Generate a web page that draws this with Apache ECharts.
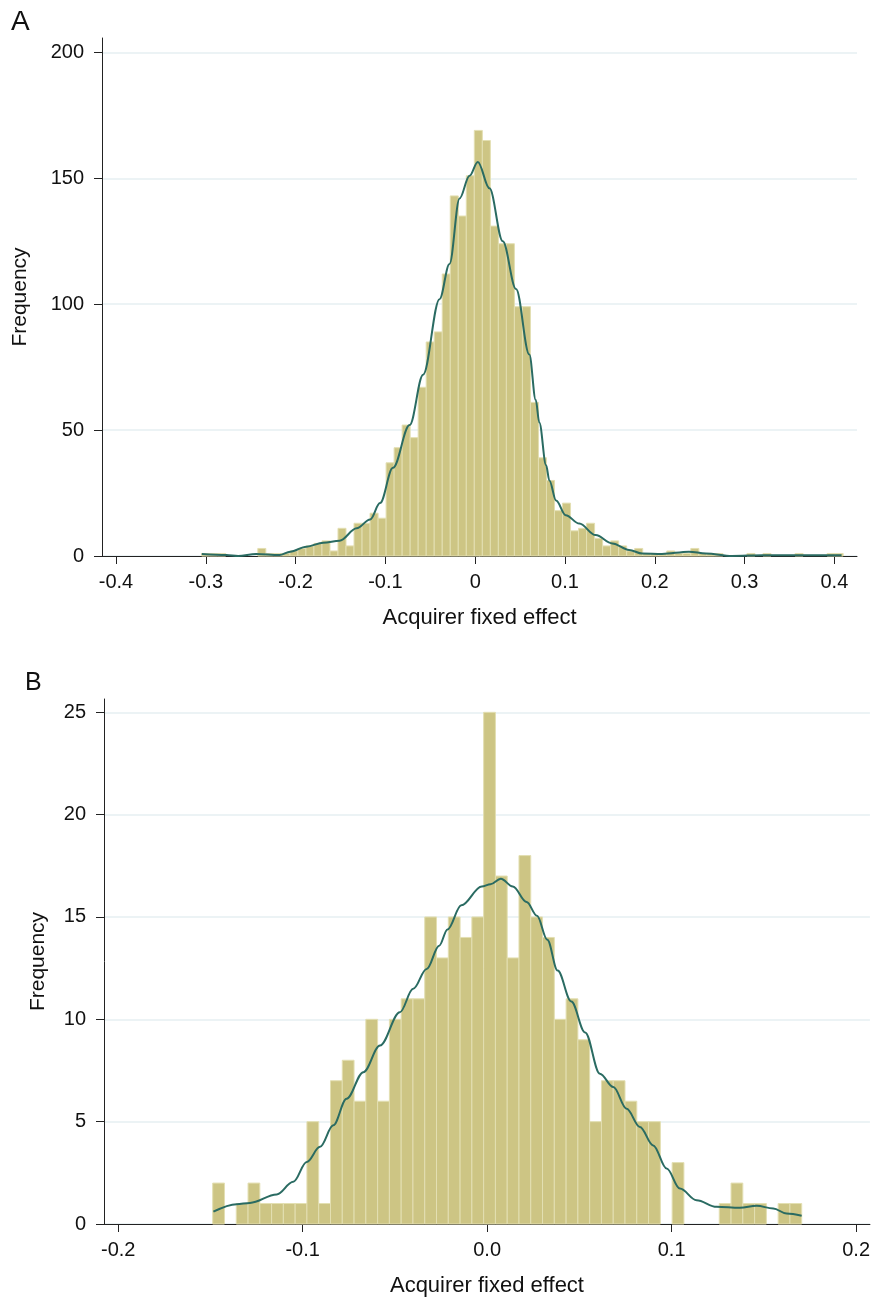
<!DOCTYPE html>
<html>
<head>
<meta charset="utf-8">
<script src="https://cdn.jsdelivr.net/npm/echarts@6/dist/echarts.min.js"></script>
<style>
html, body { margin: 0; padding: 0; background: #fff; }
#chart { width: 873px; height: 1298px; }
</style>
</head>
<body>
<div id="chart"></div>
<script>
// panel A: 80 bins
let binStartA = -0.3046;
let binWidthA = 0.00893;
let countsA = [1, 1, 1, 0, 0, 0, 0, 3, 1, 1,
    1, 2, 3, 4, 5, 6, 2, 11, 4, 13,
    13, 17, 15, 37, 43, 52, 47, 67, 85, 89,
    112, 143, 135, 151, 169, 165, 131, 124, 124, 99,
    99, 61, 39, 30, 18, 21, 10, 11, 13, 7,
    4, 6, 4, 2, 3, 1, 1, 1, 2, 1,
    1, 3, 1, 1, 1, 0, 0, 0, 1, 0,
    1, 0, 0, 0, 1, 0, 0, 0, 1, 1];
let curveA = [[-0.3045, 0.8], [-0.277, 0.4], [-0.264, 0], [-0.244, 0.8], [-0.218, 0.4], [-0.206, 1.7],
    [-0.188, 3.7], [-0.169, 5.3], [-0.151, 6.1], [-0.132, 11], [-0.117, 14.5], [-0.106, 21],
    [-0.0916, 35], [-0.073, 52], [-0.058, 72], [-0.0397, 102], [-0.0286, 116], [-0.0174, 142],
    [-0.0063, 151], [0.0029, 156.5], [0.0159, 146], [0.0307, 125], [0.0455, 106], [0.0603, 80],
    [0.0674, 62], [0.0714, 53], [0.079, 36], [0.0826, 30], [0.0901, 22], [0.1008, 16.2],
    [0.1159, 12.9], [0.1341, 8.3], [0.1527, 5.0], [0.1714, 2.4], [0.186, 1.0], [0.208, 0.8],
    [0.238, 1.7], [0.257, 1.0], [0.286, 0], [0.32, 0.3], [0.357, 0.3], [0.408, 0.3]];
let ticksXA = [-0.4, -0.3, -0.2, -0.1, 0, 0.1, 0.2, 0.3, 0.4];
let labelsXA = ['-0.4', '-0.3', '-0.2', '-0.1', '0', '0.1', '0.2', '0.3', '0.4'];
let ticksYA = [0, 50, 100, 150, 200];

// panel B: 50 bins
let binStartB = -0.14878;
let binWidthB = 0.006386;
let countsB = [2, 0, 1, 2, 1, 1, 1, 1, 5, 1,
    7, 8, 6, 10, 6, 10, 11, 11, 15, 13,
    15, 14, 15, 25, 17, 13, 18, 15, 14, 10,
    11, 9, 5, 7, 7, 6, 5, 5, 0, 3,
    0, 0, 0, 1, 2, 1, 1, 0, 1, 1];
let curveB = [[-0.1484, 0.6], [-0.1358, 0.97], [-0.1286, 1.03], [-0.1141, 1.44], [-0.1051, 2.06],
    [-0.0978, 3.03], [-0.0906, 3.77], [-0.0834, 4.82], [-0.0762, 6.12], [-0.0671, 7.42],
    [-0.0581, 8.72], [-0.0473, 10.35], [-0.0401, 11.49], [-0.0328, 12.46], [-0.026, 13.6],
    [-0.0215, 14.39], [-0.014, 15.57], [-0.0029, 16.49], [0.0018, 16.6], [0.0074, 16.87],
    [0.0139, 16.49], [0.0214, 15.73], [0.027, 15.06], [0.0326, 13.89], [0.0382, 12.38],
    [0.0456, 10.87], [0.0531, 9.36], [0.0611, 7.34], [0.0684, 6.69], [0.0756, 5.63],
    [0.0828, 4.74], [0.09, 3.84], [0.0973, 2.71], [0.1045, 1.73], [0.1135, 1.16],
    [0.1244, 0.84], [0.137, 0.79], [0.1461, 0.89], [0.1551, 0.76], [0.1623, 0.51], [0.1705, 0.4]];
let ticksXB = [-0.2, -0.1, 0, 0.1, 0.2];
let labelsXB = ['-0.2', '-0.1', '0.0', '0.1', '0.2'];
let ticksYB = [0, 5, 10, 15, 20, 25];

let barColor = '#cdc584';
let edgeColor = '#e3dfb2';
let lineColor = '#2a6b62';
let font = 'Liberation Sans, Arial, Helvetica, sans-serif';

function bins(start, width, counts) {
    let out = [];
    for (let i = 0; i < counts.length; i++) {
        if (counts[i] > 0) {
            out.push([start + i * width, start + (i + 1) * width, counts[i]]);
        }
    }
    return out;
}

function histItem(params, api) {
    let p0 = api.coord([api.value(0), api.value(2)]);
    let p1 = api.coord([api.value(1), 0]);
    return {
        type: 'rect',
        shape: { x: p0[0], y: p0[1], width: p1[0] - p0[0], height: p1[1] - p0[1] },
        style: { fill: barColor, stroke: edgeColor, lineWidth: 1 }
    };
}

function labelFor(ticks, labels) {
    return function (v) {
        for (let i = 0; i < ticks.length; i++) {
            if (Math.abs(ticks[i] - v) < 1e-9) return labels[i];
        }
        return '';
    };
}

function xAxis(idx, min, max, ticks, labels) {
    return {
        type: 'value',
        gridIndex: idx,
        min: min,
        max: max,
        name: 'Acquirer fixed effect',
        nameLocation: 'middle',
        nameGap: 51,
        nameTextStyle: { fontFamily: font, fontSize: 22, color: '#111' },
        axisLine: { show: true, onZero: false, lineStyle: { color: '#222', width: 1 } },
        axisTick: { show: true, length: 8, customValues: ticks, lineStyle: { color: '#222' } },
        axisLabel: {
            customValues: ticks,
            formatter: labelFor(ticks, labels),
            fontFamily: font, fontSize: 20, color: '#111', margin: 16
        },
        splitLine: { show: false }
    };
}

function yAxis(idx, max, ticks, gap) {
    return {
        type: 'value',
        gridIndex: idx,
        min: 0,
        max: max,
        name: 'Frequency',
        nameLocation: 'middle',
        nameGap: gap,
        nameTextStyle: { fontFamily: font, fontSize: 21, color: '#111' },
        axisLine: { show: true, onZero: false, lineStyle: { color: '#222', width: 1 } },
        axisTick: { show: true, length: 8, customValues: ticks, lineStyle: { color: '#222' } },
        axisLabel: {
            customValues: ticks,
            fontFamily: font, fontSize: 20, color: '#111', margin: 18
        },
        splitLine: { show: true, lineStyle: { color: '#e6eff2', width: 1.5 } }
    };
}

let option = {
    animation: false,
    backgroundColor: '#fff',
    graphic: [
        { type: 'text', left: 11, top: 8, style: { text: 'A', fontFamily: font, fontSize: 28, fill: '#111' } },
        { type: 'text', left: 25, top: 671, style: { text: 'B', fontFamily: font, fontSize: 25, fill: '#111' } }
    ],
    grid: [
        { left: 102, top: 38, width: 755, height: 518 },
        { left: 104, top: 699, width: 766, height: 526 }
    ],
    xAxis: [
        xAxis(0, -0.4156, 0.4252, ticksXA, labelsXA),
        xAxis(1, -0.2077, 0.2075, ticksXB, labelsXB)
    ],
    yAxis: [
        yAxis(0, 205.7, ticksYA, 71),
        yAxis(1, 25.65, ticksYB, 55)
    ],
    series: [
        {
            type: 'custom', xAxisIndex: 0, yAxisIndex: 0,
            renderItem: histItem, encode: { x: [0, 1], y: 2 },
            data: bins(binStartA, binWidthA, countsA), z: 2
        },
        {
            type: 'line', xAxisIndex: 0, yAxisIndex: 0, data: curveA,
            showSymbol: false, smooth: 0.35, smoothMonotone: 'x',
            lineStyle: { color: lineColor, width: 2 }, z: 3
        },
        {
            type: 'custom', xAxisIndex: 1, yAxisIndex: 1,
            renderItem: histItem, encode: { x: [0, 1], y: 2 },
            data: bins(binStartB, binWidthB, countsB), z: 2
        },
        {
            type: 'line', xAxisIndex: 1, yAxisIndex: 1, data: curveB,
            showSymbol: false, smooth: 0.35, smoothMonotone: 'x',
            lineStyle: { color: lineColor, width: 2 }, z: 3
        }
    ]
};

let chart = echarts.init(document.getElementById('chart'));
chart.setOption(option);
</script>
</body>
</html>
